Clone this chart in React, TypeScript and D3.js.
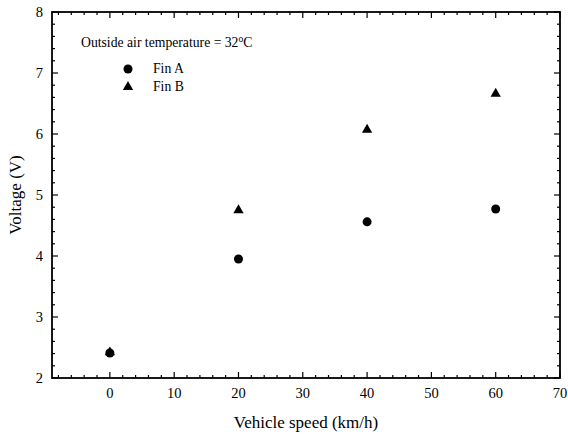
import * as d3 from 'd3'

const speeds = [0, 20, 40, 60]
const finA = [2.41, 3.95, 4.56, 4.77]
const finB = [2.42, 4.75, 6.07, 6.66]
const xMajor = [0, 10, 20, 30, 40, 50, 60, 70]
const yMajor = [2, 3, 4, 5, 6, 7, 8]

export default function App() {
  const W = 568
  const H = 434
  const margin = { top: 12, right: 8, bottom: 56, left: 52 }
  const width = W - margin.left - margin.right
  const height = H - margin.top - margin.bottom

  const x = d3.scaleLinear().domain([-9, 70]).range([0, width])
  const y = d3.scaleLinear().domain([2, 8]).range([height, 0])

  const xMinor = d3.range(-8, 70.01, 2).filter(v => !xMajor.includes(v))
  const yMinor = d3.range(2, 8.001, 0.2).map(v => +v.toFixed(1)).filter(v => !yMajor.includes(v))

  const circle = d3.symbol().type(d3.symbolCircle).size(64)()
  const triangle = d3.symbol().type(d3.symbolTriangle).size(46)()

  const font = '"Liberation Serif", "Times New Roman", serif'

  return (
    <svg width={W} height={H} style={{ position: 'absolute', left: 0, top: 0, background: '#fff' }} fontFamily={font}>
      <g transform={`translate(${margin.left},${margin.top})`}>
        {/* ticks */}
        {xMajor.map(v => (
          <g key={'xm' + v}>
            <line x1={x(v)} x2={x(v)} y1={height} y2={height - 6} stroke="#000" strokeWidth={1.2} />
            <line x1={x(v)} x2={x(v)} y1={0} y2={6} stroke="#000" strokeWidth={1.2} />
            <text x={x(v)} y={height + 20} textAnchor="middle" fontSize={14.5}>{v}</text>
          </g>
        ))}
        {xMinor.map(v => (
          <g key={'xn' + v}>
            <line x1={x(v)} x2={x(v)} y1={height} y2={height - 3} stroke="#000" strokeWidth={1.2} />
            <line x1={x(v)} x2={x(v)} y1={0} y2={3} stroke="#000" strokeWidth={1.2} />
          </g>
        ))}
        {yMajor.map(v => (
          <g key={'ym' + v}>
            <line x1={0} x2={6} y1={y(v)} y2={y(v)} stroke="#000" strokeWidth={1.2} />
            <line x1={width} x2={width - 6} y1={y(v)} y2={y(v)} stroke="#000" strokeWidth={1.2} />
            <text x={-9} y={y(v) + 5} textAnchor="end" fontSize={14.5}>{v}</text>
          </g>
        ))}
        {yMinor.map(v => (
          <g key={'yn' + v}>
            <line x1={0} x2={3} y1={y(v)} y2={y(v)} stroke="#000" strokeWidth={1.2} />
            <line x1={width} x2={width - 3} y1={y(v)} y2={y(v)} stroke="#000" strokeWidth={1.2} />
          </g>
        ))}
        <rect x={0} y={0} width={width} height={height} fill="none" stroke="#000" strokeWidth={1.8} />

        {/* points */}
        {speeds.map((s, i) => (
          <path key={'b' + i} d={triangle} transform={`translate(${x(s)},${y(finB[i])})`} fill="#000" />
        ))}
        {speeds.map((s, i) => (
          <path key={'a' + i} d={circle} transform={`translate(${x(s)},${y(finA[i])})`} fill="#000" />
        ))}

        {/* annotation + legend */}
        <text x={29} y={35} fontSize={13.7}>
          Outside air temperature = 32<tspan dy={-5} fontSize={9.5}>o</tspan><tspan dy={5}>C</tspan>
        </text>
        <path d={circle} transform={`translate(76,57)`} fill="#000" />
        <text x={101} y={61} fontSize={13.7}>Fin A</text>
        <path d={triangle} transform={`translate(76,75)`} fill="#000" />
        <text x={101} y={79} fontSize={13.7}>Fin B</text>
      </g>

      <text x={margin.left + width / 2} y={428} textAnchor="middle" fontSize={17}>Vehicle speed (km/h)</text>
      <text transform={`translate(21,${margin.top + height / 2}) rotate(-90)`} textAnchor="middle" fontSize={17}>Voltage (V)</text>
    </svg>
  )
}
